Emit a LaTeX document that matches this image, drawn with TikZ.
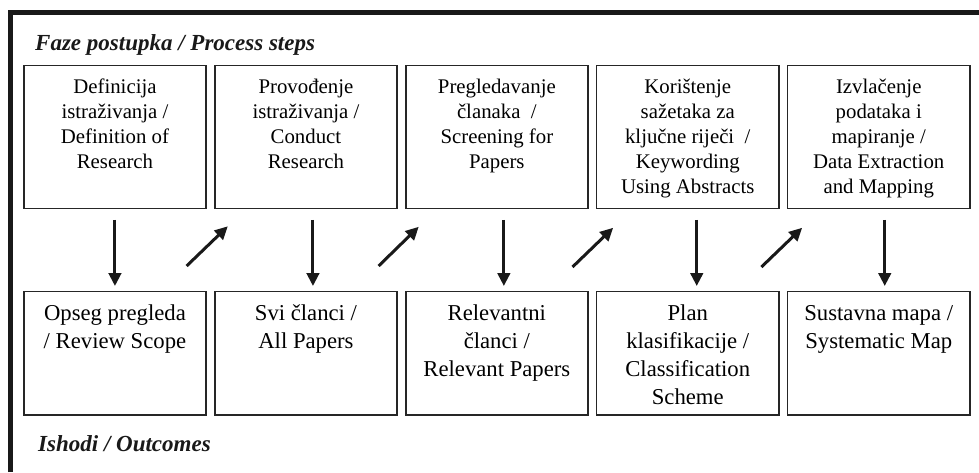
\documentclass[tikz,border=0pt]{standalone}
\usepackage{fontspec}
\setmainfont{Liberation Serif}
\usetikzlibrary{arrows.meta,calc}
\newcommand\TopTxt[1]{\parbox[t][143pt][t]{182.5pt}{\centering\fontsize{20.8}{25}\selectfont\rule{0pt}{28.5pt}#1}}
\newcommand\BotTxt[1]{\parbox[t][123.5pt][t]{182.5pt}{\centering\fontsize{22.7}{27.8}\selectfont\rule{0pt}{29.5pt}#1}}
\begin{document}
\begin{tikzpicture}[x=1pt,y=-1pt,
 stepbox/.style={draw=black!85,line width=1.8pt,inner sep=0pt,anchor=north west},
 arr/.style={line width=3pt,draw=black!90,-{Triangle[length=13pt,width=12.5pt]}},
 ttl/.style={font=\fontsize{23}{27}\selectfont\bfseries\itshape,anchor=base west,inner sep=0pt,text=black!90}]
\useasboundingbox (0,0) rectangle (979,472);
\draw[line width=5pt,black!90,line join=miter] (10.8,472) -- (10.8,12.5) -- (979,12.5);
\node[ttl] (tt) at (35,50) {Faze postupka / Process steps};
\node[ttl] (bt) at (38,451) {Ishodi / Outcomes};
% top row
\node[stepbox] (t1) at (22.8,64.5) {\TopTxt{Definicija\\ istraživanja /\\ Definition of\\ Research}};
\node[stepbox] (t2) at (213.8,64.5) {\TopTxt{Provođenje\\ istraživanja /\\ Conduct\\ Research}};
\node[stepbox] (t3) at (404.7,64.5) {\TopTxt{Pregledavanje\\ članaka~ /\\ Screening for\\ Papers}};
\node[stepbox] (t4) at (595.6,64.5) {\TopTxt{Korištenje\\ sažetaka za\\ ključne riječi~ /\\ Keywording\\ Using Abstracts}};
\node[stepbox] (t5) at (786.6,64.5) {\TopTxt{Izvlačenje\\ podataka i\\ mapiranje /\\ Data Extraction\\ and Mapping}};
% bottom row
\node[stepbox] (b1) at (22.8,290.5) {\BotTxt{Opseg pregleda\\ / Review Scope}};
\node[stepbox] (b2) at (213.8,290.5) {\BotTxt{Svi članci /\\ All Papers}};
\node[stepbox] (b3) at (404.7,290.5) {\BotTxt{Relevantni\\ članci /\\ Relevant Papers}};
\node[stepbox] (b4) at (595.6,290.5) {\BotTxt{Plan\\ klasifikacije /\\ Classification\\ Scheme}};
\node[stepbox] (b5) at (786.6,290.5) {\BotTxt{Sustavna mapa /\\ Systematic Map}};
% down arrows
\draw[arr] ($(t1.south)+(0,10.5)$) -- ($(b1.north)+(0,-4.5)$);
\draw[arr] ($(t2.south)+(7,10.5)$) -- ($(b2.north)+(7,-4.5)$);
\draw[arr] ($(t3.south)+(7,10.5)$) -- ($(b3.north)+(7,-4.5)$);
\draw[arr] ($(t4.south)+(9,10.5)$) -- ($(b4.north)+(9,-4.5)$);
\draw[arr] ($(t5.south)+(6,10.5)$) -- ($(b5.north)+(6,-4.5)$);
% diagonal arrows
\draw[arr] ($(b1.north east)+(-20.5,-24.5)$) -- ($(t2.south west)+(14,17)$);
\draw[arr] ($(b2.north east)+(-19.5,-24.5)$) -- ($(t3.south west)+(14,17.5)$);
\draw[arr] ($(b3.north east)+(-16.5,-23.5)$) -- ($(t4.south west)+(17.5,18.5)$);
\draw[arr] ($(b4.north east)+(-18.5,-23.5)$) -- ($(t5.south west)+(15.5,18.5)$);
\end{tikzpicture}
\end{document}
